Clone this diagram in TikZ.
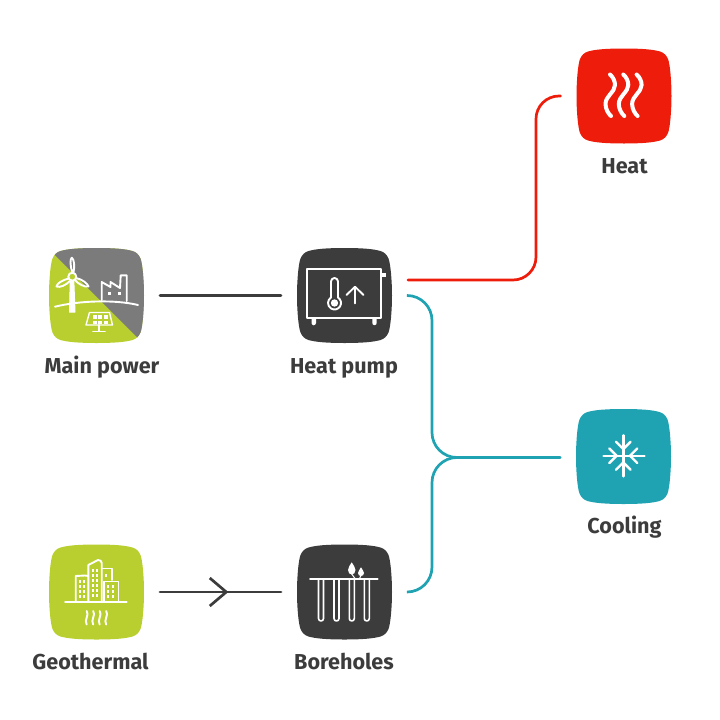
\documentclass[tikz,border=0pt]{standalone}
\usepackage{fontspec}
\setmainfont{Fira Sans}
\usetikzlibrary{arrows.meta,decorations.markings}

\definecolor{tiledark}{HTML}{3C3C3C}
\definecolor{tilegreen}{HTML}{B9CF2F}
\definecolor{tilegrey}{HTML}{7B7B7B}
\definecolor{tilered}{HTML}{EE1C0A}
\definecolor{tileteal}{HTML}{1FA3B3}

\newcommand\tilepath{(0,-47.5)
  .. controls (18,-47.5) and (29,-46.5) .. (36,-44.5)
  .. controls (40,-43.3) and (42.5,-40.5) .. (44,-37)
  .. controls (46,-32) and (47.5,-15) .. (47.5,0)
  .. controls (47.5,15) and (46,32) .. (44,37)
  .. controls (42.5,40.5) and (40,43.3) .. (36,44.5)
  .. controls (29,46.5) and (18,47.5) .. (0,47.5)
  .. controls (-18,47.5) and (-29,46.5) .. (-36,44.5)
  .. controls (-40,43.3) and (-42.5,40.5) .. (-44,37)
  .. controls (-46,32) and (-47.5,15) .. (-47.5,0)
  .. controls (-47.5,-15) and (-46,-32) .. (-44,-37)
  .. controls (-42.5,-40.5) and (-40,-43.3) .. (-36,-44.5)
  .. controls (-29,-46.5) and (-18,-47.5) .. (0,-47.5) -- cycle}

\tikzset{
  tilebox/.style={minimum size=95pt, inner sep=0pt, outer xsep=16pt, outer ysep=0pt},
  tag/.style={anchor=base, font=\fontsize{21.6}{26}\selectfont\bfseries, text=tiledark},
  wire/.style={line width=2.7pt, line cap=round, color=tiledark},
  redwire/.style={wire, color=tilered, rounded corners=23pt},
  tealwire/.style={wire, color=tileteal, rounded corners=25pt},
  icon/.style={draw=white, line width=1.9pt, line join=round, line cap=round},
  iconthick/.style={icon, line width=4pt},
}

\begin{document}
\begin{tikzpicture}[x=1pt, y=-1pt]
\useasboundingbox (0,0) rectangle (720,720);

%tiles
\fill[tilegreen, shift={(96.5,295.5)}] \tilepath;
\begin{scope}[shift={(96.5,295.5)}]
  \clip \tilepath;
  \fill[tilegrey] (-50,-49) -- (50,51) -- (50,-50) -- (-50,-50) -- cycle;
\end{scope}
\fill[tiledark, shift={(344.5,295.5)}] \tilepath;
\fill[tilegreen, shift={(96.5,592)}] \tilepath;
\fill[tiledark, shift={(344.5,592)}] \tilepath;
\fill[tilered, shift={(624,96)}] \tilepath;
\fill[tileteal, shift={(623.5,456.5)}] \tilepath;

\node[tilebox] (main) at (96.5,295.5) {};
\node[tilebox] (pump) at (344.5,295.5) {};
\node[tilebox] (geo) at (96.5,592) {};
\node[tilebox] (bore) at (344.5,592) {};
\node[tilebox] (heat) at (624,96) {};
\node[tilebox] (cool) at (623.5,457.5) {};

%labels
\node[tag] (mainlabel) at (102,373) {Main power};
\node[tag] (pumplabel) at (344,373) {Heat pump};
\node[tag] (geolabel) at (90.5,669) {Geothermal};
\node[tag] (borelabel) at (344,669) {Boreholes};
\node[tag] (heatlabel) at (624.5,173) {Heat};
\node[tag] (coollabel) at (624.5,533) {Cooling};

%connectors
\coordinate (heatout) at (408,280);
\coordinate (heatbus) at (536,200);
\coordinate (coolbus) at (432,400);
\coordinate (coolbus2) at (432,520);
\draw[wire] (main.east) -- (pump.west);
\draw[wire, postaction={decorate}, decoration={markings, mark=at position 0.565 with {\arrow{Straight Barb[length=16.5pt, width=28pt, line width=2.7pt]}}}] (geo.east) -- (bore.west);
\draw[redwire] (heatout) -| (heatbus) |- (heat.west);
\draw[tealwire] (pump.east) -| (coolbus) |- (cool.west);
\draw[tealwire] (bore.east) -| (coolbus2) |- (cool.west);

%main power icon: turbine
\draw[icon, fill=white, line width=1pt] (70.3,280) -- (73.8,280) -- (75,312) -- (69.5,312) -- cycle;
\draw[icon] (72.3,272.5) .. controls (70,265) and (70,259) .. (71.8,257.7) .. controls (74,259) and (75,266) .. (73.5,272.5);
\draw[icon] (76,278) .. controls (82,279) and (88,284) .. (88.5,286.5) .. controls (85,287.5) and (78,284) .. (75,280);
\draw[icon] (68.5,278.5) .. controls (63,280) and (57,283) .. (56.5,286.5) .. controls (60,288) and (66,285) .. (70,281);
\draw[icon, fill=tilegreen] (72.3,276.7) circle (4);
%main power icon: ground and factory
\draw[icon] (55,306.7) .. controls (80,300.5) and (115,299.5) .. (138,305);
\draw[icon] (101.7,300) -- (101.7,282) -- (110.5,287) -- (110.5,282) -- (120,288) -- (120.7,275.3) -- (126.7,275.3) -- (126.7,301);
\fill[white] (107.5,291.5) rectangle +(3.5,3.5);
\fill[white] (117.5,291.5) rectangle +(3.5,3.5);
%main power icon: solar panel
\draw[icon, line width=1.4pt] (89.5,312.5) -- (109.5,312.5) -- (112.5,325) -- (86,325) -- cycle;
\foreach \px in {92.5,98,103.5}
  \foreach \py in {315,320.5}
    \fill[white] (\px,\py) rectangle +(4.2,3.5);
\draw[icon] (99,325) -- (99,331);
\draw[icon] (93,331.5) -- (105,331.5);

%heat pump icon
\draw[icon] (307.3,269.3) rectangle (381,318.3);
\fill[white] (381,273) rectangle (386,277);
\fill[white] (311.5,318.3) -- (316,318.3) -- (316,323) arc (0:180:2.25) -- cycle;
\fill[white] (372.3,318.3) -- (376.7,318.3) -- (376.7,323) arc (0:180:2.2) -- cycle;
\draw[icon] (331,297.5) -- (331,281.5) arc (180:360:3.5) -- (338,297.5) arc (-57.5:237.5:6.5) -- cycle;
\fill[white] (334.5,303) circle (3.7);
\draw[icon] (355,303.3) -- (355,287);
\draw[icon] (346.5,295) -- (355,286.7) -- (363.5,295);

%geothermal icon
\draw[icon] (65,601.7) -- (126.7,601.7);
\draw[icon] (75.7,601) -- (75.7,576) -- (85,575.5) -- (88.3,576);
\draw[icon] (88.3,601) -- (88.3,565) -- (98,560) .. controls (100,560) and (101.7,561) .. (101.7,563) -- (101.7,601);
\draw[icon] (101.7,568.5) -- (111.7,568.5) -- (111.7,580);
\draw[icon] (104,601) -- (104,581.5) -- (118.5,581.5) -- (118.5,601);
\foreach \px in {79,83}
  \foreach \py in {580,585,590,595}
    \fill[white] (\px,\py) rectangle +(2.2,2.8);
\foreach \px in {92,96}
  \foreach \py in {569,574,579,584,589,594}
    \fill[white] (\px,\py) rectangle +(2.2,2.8);
\foreach \px in {107,111.5}
  \foreach \py in {585,590,595}
    \fill[white] (\px,\py) rectangle +(2.4,2.8);
\fill[white] (104.5,574) rectangle +(2.2,3);
\foreach \wx in {86.7,93.2,99.7,106.2}
  \draw[icon, shift={(\wx,0)}] (0,611) .. controls (3,615) and (-3,620) .. (0,624.5);

%borehole icon
\draw[icon] (310,579) -- (377.7,579);
\foreach \tx in {318.5,334,349.3,364.3}
  \draw[icon, line width=1.6pt] (\tx,579) -- (\tx,618.5) arc (180:0:2.5) -- (\tx+5,579);
\fill[white] (351.7,562.3) .. controls (353,565) and (355.5,567) .. (355.5,570) .. controls (355.5,573) and (353.5,574.5) .. (351.7,574.5) .. controls (350,574.5) and (348,573) .. (348,570) .. controls (348,567) and (350.5,565) .. (351.7,562.3) -- cycle;
\fill[white] (361,567.3) .. controls (362,569.5) and (364,571) .. (364,573) .. controls (364,575) and (362.5,576) .. (361,576) .. controls (359.5,576) and (358,575) .. (358,573) .. controls (358,571) and (360,569.5) .. (361,567.3) -- cycle;
\draw[icon, line width=1pt] (351.7,574) -- (355,578.5);
\draw[icon, line width=1pt] (361,575.5) -- (359.5,578.5);

%heat icon
\foreach \wx in {610,623.3,636.6}
  \draw[iconthick, shift={(\wx,0)}] (0,74.5) .. controls (3,77) and (5,81) .. (5,85) .. controls (5,92) and (-4.5,96) .. (-4.5,104) .. controls (-4.5,109) and (-1.5,114) .. (1,116);

%cooling icon
\draw[icon, line width=2.4pt] (623.3,435.3) -- (623.3,476.3);
\draw[icon, line width=2.4pt] (603.5,455.7) -- (644.5,455.7);
\foreach \ca in {0,90,180,270}
  \draw[icon, line width=2.4pt, shift={(623.3,455.7)}, rotate=\ca] (14,-7.3) -- (6.7,0) -- (14,7.3);
\end{tikzpicture}
\end{document}
